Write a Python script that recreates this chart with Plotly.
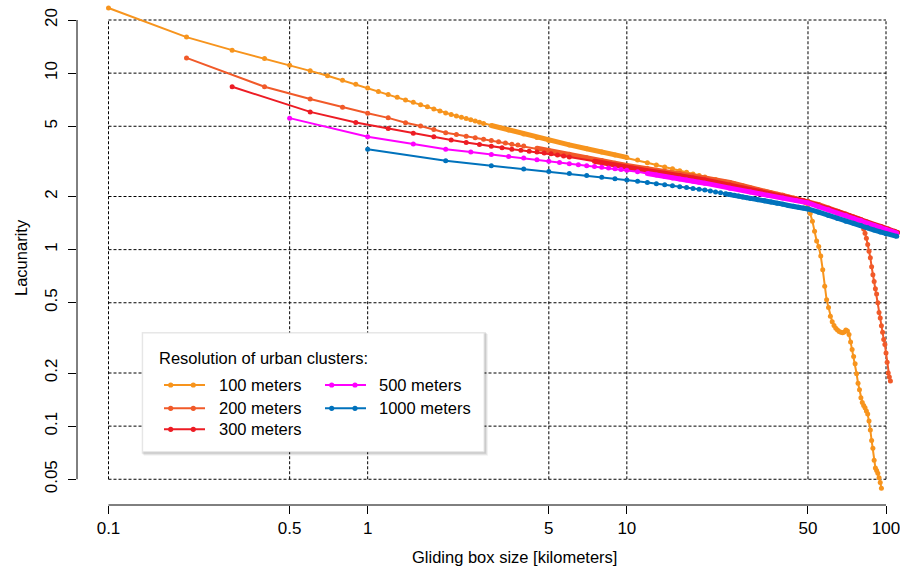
import plotly.graph_objects as go

# Gliding box size [km] and lacunarity, one pair of lists per cluster resolution
km_100 = [0.1, 0.2, 0.3, 0.4, 0.5, 0.6, 0.7, 0.8, 0.9, 1.0, 1.1, 1.2, 1.3, 1.4, 1.5,
          1.6, 1.7, 1.8, 1.9, 2.0, 2.1, 2.2, 2.3, 2.4, 2.5, 2.6, 2.7, 2.8, 3.0, 3.5,
          4.0, 4.5, 5, 6, 7, 8, 9, 10, 11, 12, 13, 14, 15, 16, 17, 18, 19, 20, 22,
          24, 26, 28, 30, 32, 34, 36, 38, 40, 42, 44, 46, 48, 49, 50, 51, 52, 53,
          54, 55, 56, 57, 58, 59, 60, 61, 62, 63, 64, 65, 66, 67, 68, 69, 70, 71,
          72, 73, 74, 75, 76, 77, 78, 79, 80, 81, 82, 83, 84, 85, 86, 87, 88, 89,
          90, 91, 92, 93, 94, 95, 96]
lac_100 = [23.4, 16.0, 13.5, 12.1, 11.1, 10.3, 9.67, 9.11, 8.64, 8.24, 7.88, 7.57, 7.3,
           7.05, 6.83, 6.62, 6.44, 6.27, 6.1, 5.95, 5.83, 5.72, 5.62, 5.53, 5.44, 5.35,
           5.27, 5.19, 5.05, 4.76, 4.52, 4.32, 4.15, 3.92, 3.73, 3.57, 3.44, 3.33, 3.22,
           3.11, 3.02, 2.94, 2.87, 2.80, 2.74, 2.68, 2.63, 2.58, 2.50, 2.42, 2.36, 2.30,
           2.24, 2.19, 2.14, 2.10, 2.06, 2.03, 1.99, 1.96, 1.93, 1.90, 1.84, 1.72, 1.60,
           1.45, 1.27, 1.12, 1.04, 0.92, 0.77, 0.62, 0.52, 0.47, 0.42, 0.39, 0.372, 0.358,
           0.35, 0.344, 0.34, 0.338, 0.342, 0.35, 0.346, 0.33, 0.30, 0.272, 0.248, 0.226,
           0.198, 0.175, 0.161, 0.145, 0.136, 0.131, 0.127, 0.122, 0.117, 0.107, 0.095,
           0.083, 0.075, 0.064, 0.058, 0.056, 0.054, 0.051, 0.048, 0.0445]

km_200 = [0.2, 0.4, 0.6, 0.8, 1.0, 1.2, 1.4, 1.6, 1.8, 2.0, 2.2, 2.4, 2.6, 2.8, 3.0,
          3.2, 3.4, 3.6, 3.8, 4.0, 4.5, 5, 6, 7, 8, 9, 10, 12, 14, 16, 18, 20, 25,
          30, 35, 40, 45, 50, 55, 60, 65, 70, 75, 80, 81, 82, 83, 84, 85, 86, 87,
          88, 89, 90, 91, 92, 93, 94, 95, 96, 97, 98, 99, 100, 101, 102, 103, 104]
lac_200 = [12.2, 8.37, 7.13, 6.40, 5.92, 5.58, 5.24, 5.02, 4.80, 4.60, 4.49, 4.39, 4.30,
           4.22, 4.15, 4.08, 4.02, 3.96, 3.91, 3.86, 3.75, 3.65, 3.47, 3.32, 3.20, 3.09,
           3.00, 2.88, 2.78, 2.70, 2.62, 2.55, 2.40, 2.23, 2.12, 2.03, 1.94, 1.88, 1.80,
           1.72, 1.65, 1.59, 1.53, 1.48, 1.43, 1.31, 1.24, 1.16, 1.07, 0.98, 0.90, 0.80,
           0.72, 0.66, 0.60, 0.56, 0.50, 0.44, 0.41, 0.37, 0.34, 0.31, 0.29, 0.26, 0.23,
           0.20, 0.19, 0.18]

km_300 = [0.3, 0.6, 0.9, 1.2, 1.5, 1.8, 2.1, 2.4, 2.7, 3.0, 3.3, 3.6, 3.9, 4.2, 4.5,
          4.8, 5.1, 5.4, 5.7, 6.0, 7.5, 9, 10.5, 12, 14, 16, 18, 20, 25, 30, 36, 42,
          48, 54, 60, 66, 72, 78, 84, 90, 96, 102, 108, 111]
lac_300 = [8.37, 6.03, 5.25, 4.85, 4.57, 4.36, 4.18, 4.05, 3.94, 3.85, 3.78, 3.71, 3.66,
           3.61, 3.57, 3.53, 3.49, 3.44, 3.39, 3.35, 3.17, 3.01, 2.89, 2.80, 2.71, 2.63,
           2.55, 2.48, 2.32, 2.18, 2.06, 1.97, 1.89, 1.80, 1.71, 1.63, 1.56, 1.49, 1.44,
           1.39, 1.35, 1.31, 1.27, 1.25]

km_500 = [0.5, 1.0, 1.5, 2.0, 2.5, 3.0, 3.5, 4.0, 4.5, 5.0, 5.5, 6.0, 6.5, 7.0, 7.5,
          8.0, 8.5, 9.0, 9.5, 10, 11, 12, 13, 14, 15, 16, 17, 18, 19, 20, 25, 30, 35,
          40, 45, 50, 55, 60, 65, 70, 75, 80, 85, 90, 95, 100, 105, 110]
lac_500 = [5.56, 4.36, 3.97, 3.71, 3.57, 3.46, 3.37, 3.30, 3.23, 3.17, 3.12, 3.07, 3.03,
           2.99, 2.96, 2.93, 2.90, 2.87, 2.84, 2.82, 2.76, 2.70, 2.65, 2.60, 2.55, 2.51,
           2.48, 2.44, 2.41, 2.38, 2.23, 2.12, 2.03, 1.96, 1.90, 1.84, 1.75, 1.68, 1.61,
           1.56, 1.50, 1.46, 1.41, 1.37, 1.34, 1.30, 1.27, 1.24]

km_1000 = [1, 2, 3, 4, 5, 6, 7, 8, 9, 10, 11, 12, 13, 14, 15, 16, 17, 18, 19, 20, 21,
           22, 23, 24, 25, 26, 27, 28, 29, 30, 32, 34, 36, 38, 40, 42, 44, 46, 48, 50,
           55, 60, 65, 70, 75, 80, 85, 90, 95, 100, 110]
lac_1000 = [3.70, 3.19, 2.99, 2.86, 2.77, 2.70, 2.63, 2.57, 2.52, 2.48, 2.44, 2.40, 2.36,
            2.33, 2.30, 2.27, 2.25, 2.22, 2.20, 2.18, 2.15, 2.12, 2.10, 2.07, 2.05, 2.03,
            2.01, 1.99, 1.97, 1.95, 1.92, 1.89, 1.86, 1.83, 1.81, 1.78, 1.76, 1.74, 1.72,
            1.70, 1.63, 1.56, 1.50, 1.45, 1.41, 1.37, 1.33, 1.29, 1.26, 1.23, 1.19]

series_names = ["100 meters", "200 meters", "300 meters", "500 meters", "1000 meters"]
series_colors = ["#F7941D", "#F15A29", "#ED1C24", "#FF00FF", "#0072BC"]

x_ticks = [0.1, 0.5, 1, 5, 10, 50, 100]
x_tick_labels = ["0.1", "0.5", "1", "5", "10", "50", "100"]
y_ticks = [0.05, 0.1, 0.2, 0.5, 1, 2, 5, 10, 20]
y_tick_labels = ["0.05", "0.1", "0.2", "0.5", "1", "2", "5", "10", "20"]

# ---- styling / layout ----
FONT = "Liberation Sans, Arial, sans-serif"
TEXT_SIZE = 16.5
TICK_SIZE = 17
W, H = 900, 573
ML, MB = 77, 68
PW, PH = W - ML, H - MB

# box sizes where the markers sit so close together that they fuse into a band
dense_spans = [[(2.9, 10)], [(4.2, 81)], [(7, 111)], [(12, 110)], [(24, 110)]]


def paper_x(p):
    return (p - ML) / PW


def paper_y(p):
    return (PH - p) / PH


series = [(km_100, lac_100), (km_200, lac_200), (km_300, lac_300),
          (km_500, lac_500), (km_1000, lac_1000)]

fig = go.Figure()
for (km, lac), name, color, spans in zip(series, series_names, series_colors, dense_spans):
    fig.add_trace(go.Scatter(
        x=km, y=lac, name=name, mode="lines+markers",
        line=dict(color=color, width=2),
        marker=dict(color=color, size=5, line=dict(width=0)),
        showlegend=False, cliponaxis=False))
    for lo, hi in spans:
        pts = [(k, v) for k, v in zip(km, lac) if lo <= k <= hi]
        fig.add_trace(go.Scatter(
            x=[p[0] for p in pts], y=[p[1] for p in pts], mode="lines",
            line=dict(color=color, width=5), showlegend=False, hoverinfo="skip"))

shapes = []
grid_line = dict(color="black", width=1, dash="3px,2px")
for t in x_ticks:
    shapes.append(dict(type="line", xref="x", yref="y", x0=t, x1=t,
                       y0=y_ticks[0], y1=y_ticks[-1], line=grid_line, layer="below"))
for t in y_ticks:
    shapes.append(dict(type="line", xref="x", yref="y", x0=x_ticks[0], x1=x_ticks[-1],
                       y0=t, y1=t, line=grid_line, layer="below"))

# axis lines spanning only the labelled range
shapes.append(dict(type="line", xref="paper", yref="y", x0=0, x1=0,
                   y0=y_ticks[0], y1=y_ticks[-1], line=dict(color="black", width=1)))
shapes.append(dict(type="line", xref="x", yref="paper", x0=x_ticks[0], x1=x_ticks[-1],
                   y0=0, y1=0, line=dict(color="black", width=1)))

# legend panel with a soft shadow
bx0, by0, bx1, by1 = 142.7, 333, 484, 451.7
for d, a in [(4, 0.05), (3, 0.07), (2, 0.09)]:
    shapes.append(dict(type="rect", xref="paper", yref="paper",
                       x0=paper_x(bx0 + d - 3), x1=paper_x(bx1 + d),
                       y0=paper_y(by1 + d), y1=paper_y(by0 + d - 3),
                       line=dict(width=0), fillcolor=f"rgba(0,0,0,{a})", layer="above"))
shapes.append(dict(type="rect", xref="paper", yref="paper",
                   x0=paper_x(bx0), x1=paper_x(bx1), y0=paper_y(by1), y1=paper_y(by0),
                   line=dict(color="#E6E6E6", width=1), fillcolor="white", layer="above"))

text_font = dict(family=FONT, size=TEXT_SIZE, color="black")
annotations = [
    dict(text="Resolution of urban clusters:", xref="paper", yref="paper",
         x=paper_x(156.7), y=paper_y(358.3), xanchor="left", yanchor="middle",
         showarrow=False, font=text_font),
    dict(text="Gliding box size [kilometers]", xref="paper", yref="paper",
         x=paper_x(514.7), y=paper_y(557), xanchor="center", yanchor="middle",
         showarrow=False, font=text_font),
    dict(text="Lacunarity", xref="paper", yref="paper", textangle=-90,
         x=paper_x(21), y=paper_y(258), xanchor="center", yanchor="middle",
         showarrow=False, font=text_font),
]

cols = [(164, 205, 170.7, 193.3, 217.3), (325, 366, 331.7, 355, 377.3)]
rows = [385, 408.3, 429.3]
slots = [(0, 0), (0, 1), (0, 2), (1, 0), (1, 1)]
r = 2.6
for name, color, (c, rw) in zip(series_names, series_colors, slots):
    lx0, lx1, m1, m2, tx = cols[c]
    yy = rows[rw]
    shapes.append(dict(type="line", xref="paper", yref="paper",
                       x0=paper_x(lx0), x1=paper_x(lx1), y0=paper_y(yy), y1=paper_y(yy),
                       line=dict(color=color, width=2), layer="above"))
    for m in (m1, m2):
        shapes.append(dict(type="circle", xref="paper", yref="paper",
                           x0=paper_x(m - r), x1=paper_x(m + r),
                           y0=paper_y(yy + r), y1=paper_y(yy - r),
                           line=dict(width=0), fillcolor=color, layer="above"))
    annotations.append(dict(text=name, xref="paper", yref="paper",
                            x=paper_x(tx), y=paper_y(yy), xanchor="left", yanchor="middle",
                            showarrow=False, font=text_font))

tick_font = dict(family=FONT, size=TICK_SIZE, color="black")
fig.update_layout(
    width=W, height=H,
    margin=dict(l=ML, r=0, t=0, b=MB, pad=0),
    paper_bgcolor="white", plot_bgcolor="white",
    font=dict(family=FONT, size=TICK_SIZE, color="black"),
    shapes=shapes, annotations=annotations,
    xaxis=dict(type="log", range=[-1.12154, 2.05399], tickvals=x_ticks,
               ticktext=x_tick_labels, ticks="outside", ticklen=8, tickwidth=1,
               tickcolor="black", showgrid=False, zeroline=False, showline=False,
               ticklabeloverflow="allow", ticklabelstandoff=0, tickfont=tick_font),
    yaxis=dict(type="log", range=[-1.44685, 1.41434], tickvals=y_ticks,
               ticktext=y_tick_labels, ticks="outside", ticklen=8, tickwidth=1,
               tickcolor="black", showgrid=False, zeroline=False, showline=False,
               tickangle=-90, ticklabelstandoff=4, ticklabeloverflow="allow",
               tickfont=tick_font),
)

fig.write_html("out.html")
